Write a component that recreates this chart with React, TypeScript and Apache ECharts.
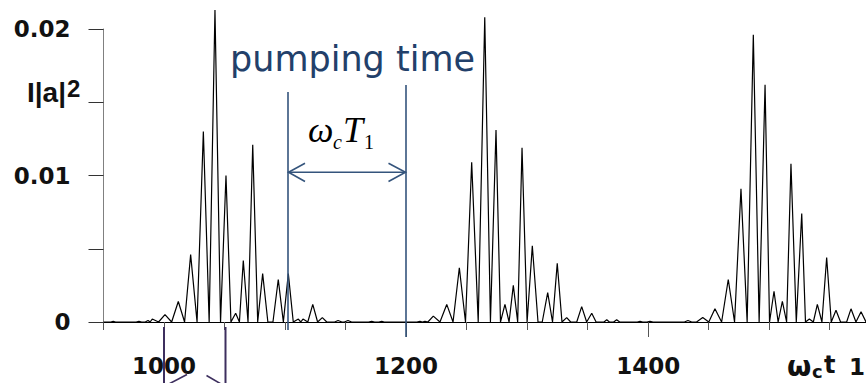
import React, { useEffect, useRef } from "react";
import * as echarts from "echarts";

// Pulse 1 samples (ωc t, I|a|^2)
const pulse1Time = [950, 956, 958, 960, 977, 979.3, 981.5, 984.5, 986.8, 988.5, 990.3, 995.5, 1000.8, 1006.3, 1011.8, 1017, 1022, 1027.3, 1032.5, 1037.3, 1042.1, 1046.7, 1051.2, 1055.3, 1059.2, 1062.3, 1065.5, 1069.4, 1073.3, 1077.4, 1081.5, 1085.8, 1090, 1094.4, 1098.6, 1102.7, 1106.8, 1111, 1113, 1114.8, 1118.8, 1122.9, 1126.9, 1130.8, 1134.5, 1141, 1143.8, 1147, 1149, 1152, 1155, 1169, 1171.6, 1174, 1177.5, 1179.9, 1182];
const pulse1Intensity = [0, 0, 0.00005, 0, 0, 0.00005, 0, 0, 0.0001, 0, 0.0002, 0, 0.0005, 0, 0.0014, 0, 0.0046, 0, 0.013, 0, 0.0213, 0, 0.01, 0, 0.0006, 0, 0.0042, 0, 0.0121, 0, 0.0033, 0, 0, 0.0029, 0, 0.0033, 0, 0.0002, 0, 0.0002, 0, 0.0012, 0, 0.0003, 0, 0, 0.0001, 0, 0, 0.0001, 0, 0, 0.00005, 0, 0, 0.00005, 0];

// Pulse 2 samples
const pulse2Time = [1209, 1211.5, 1213.5, 1215.6, 1218, 1222.5, 1228, 1233.6, 1238.8, 1244, 1249.1, 1254.2, 1259.6, 1265, 1269.7, 1274.3, 1278, 1281.7, 1285.1, 1288.6, 1292.2, 1295.8, 1300, 1304.3, 1309, 1312.5, 1317, 1321, 1324.9, 1328.8, 1332.7, 1336, 1341, 1345.1, 1349.2, 1353.4, 1357, 1363.5, 1365.8, 1368, 1371.5, 1374, 1376.5, 1391, 1393.3, 1395.5, 1399, 1401.5, 1404, 1430, 1432.9, 1436];
const pulse2Intensity = [0, 0.00005, 0, 0.00005, 0, 0.0004, 0, 0.0012, 0, 0.0037, 0, 0.0109, 0, 0.0208, 0, 0.0131, 0, 0.0012, 0, 0.0025, 0, 0.0119, 0, 0.0052, 0, 0, 0.002, 0, 0.004, 0, 0.0003, 0, 0, 0.00105, 0, 0.0006, 0, 0, 0.00015, 0, 0, 0.00015, 0, 0, 0.00005, 0, 0, 0.00005, 0, 0, 0.0001, 0];

// Pulse 3 samples
const pulse3Time = [1440, 1445.1, 1450.1, 1455.2, 1460.7, 1466.2, 1471.4, 1476.7, 1481.8, 1486.9, 1491.7, 1496.6, 1500.3, 1504, 1507.4, 1510.9, 1514.4, 1518, 1522.4, 1526.9, 1530, 1533.2, 1536.5, 1539.8, 1543.6, 1547.5, 1551.3, 1555.2, 1559, 1564, 1567.6, 1571.7, 1575.9, 1580];
const pulse3Intensity = [0, 0.0003, 0, 0.0009, 0, 0.0029, 0, 0.0091, 0, 0.0196, 0, 0.0162, 0, 0.0021, 0, 0.0014, 0, 0.0108, 0, 0.0074, 0, 0.0002, 0, 0.0012, 0, 0.0044, 0, 0.0008, 0, 0, 0.0009, 0, 0.0007, 0];

const xLabelValues = [1000, 1200, 1400];
const xMajorTickValues = [1000, 1200, 1400];
const yLabelValues = [0, 0.01, 0.02];

const SANS = "'DejaVu Sans', Verdana, sans-serif";
const ARIAL = "'Liberation Sans', Arial, sans-serif";
const SERIF = "'Liberation Serif', 'Times New Roman', serif";
const BLUE = "#34547c";
const PURPLE = "#3d2f5e";

export default function App() {
  const ref = useRef<HTMLDivElement>(null);

  useEffect(() => {
    const chart = echarts.init(ref.current!, null, { renderer: "svg", width: 866, height: 383 });
    const times = [...pulse1Time, ...pulse2Time, ...pulse3Time];
    const vals = [...pulse1Intensity, ...pulse2Intensity, ...pulse3Intensity];
    const data = times.map((t, i) => [t, vals[i]]);

    const labelFont = { fontFamily: SANS, fontWeight: "bold" as const, fontSize: 23, color: "#111" };

    chart.setOption({
      animation: false,
      backgroundColor: "#fff",
      grid: { left: 103.5, right: 0, top: 29, bottom: 61 },
      xAxis: [
        {
          type: "value",
          min: 950,
          max: 1580,
          interval: 50,
          axisLine: { show: true, lineStyle: { color: "#000", width: 1 } },
          axisTick: { show: true, length: 8, lineStyle: { color: "#555" } },
          axisLabel: { show: false },
          splitLine: { show: false },
        },
        {
          type: "value",
          min: 950,
          max: 1580,
          position: "bottom",
          axisLine: { show: false },
          axisTick: { show: true, customValues: xMajorTickValues, length: 15, lineStyle: { color: "#555" } },
          axisLabel: {
            show: true,
            customValues: xLabelValues,
            margin: 32,
            formatter: (v: number) => String(v),
            ...labelFont,
          },
          splitLine: { show: false },
        },
      ],
      yAxis: {
        type: "value",
        min: 0,
        max: 0.02,
        interval: 0.005,
        axisLine: { show: true, lineStyle: { color: "#808080", width: 1 } },
        axisTick: { show: true, length: 15, lineStyle: { color: "#333" } },
        axisLabel: {
          show: true,
          customValues: yLabelValues,
          margin: 33,
          formatter: (v: number) => (v === 0 ? "0" : v.toFixed(2)),
          ...labelFont,
        },
        splitLine: { show: false },
      },
      series: [
        {
          type: "line",
          xAxisIndex: 0,
          yAxisIndex: 0,
          data,
          symbol: "none",
          showSymbol: false,
          clip: false,
          lineStyle: { color: "#000", width: 1.2 },
          z: 3,
        },
      ],
      graphic: [
        { type: "line", z: 10, shape: { x1: 288, y1: 92, x2: 288, y2: 330 }, style: { stroke: BLUE, lineWidth: 1.6 } },
        { type: "line", z: 10, shape: { x1: 406, y1: 85, x2: 406, y2: 337 }, style: { stroke: BLUE, lineWidth: 1.6 } },
        { type: "line", z: 10, shape: { x1: 288, y1: 172.3, x2: 406, y2: 172.3 }, style: { stroke: BLUE, lineWidth: 1.6 } },
        { type: "polyline", z: 10, shape: { points: [[305, 163.3], [288.5, 172.3], [305, 181.5]] }, style: { stroke: BLUE, lineWidth: 1.6, fill: null } },
        { type: "polyline", z: 10, shape: { points: [[388.5, 163.3], [405.5, 172.3], [388.5, 181.5]] }, style: { stroke: BLUE, lineWidth: 1.6, fill: null } },
        { type: "line", z: 10, shape: { x1: 164, y1: 327, x2: 164, y2: 383 }, style: { stroke: PURPLE, lineWidth: 2 } },
        { type: "line", z: 10, shape: { x1: 225.5, y1: 327, x2: 225.5, y2: 383 }, style: { stroke: PURPLE, lineWidth: 2 } },
        { type: "line", z: 10, shape: { x1: 165, y1: 386, x2: 187, y2: 374.5 }, style: { stroke: PURPLE, lineWidth: 1.6 } },
        { type: "line", z: 10, shape: { x1: 224.5, y1: 386, x2: 206.5, y2: 375.5 }, style: { stroke: PURPLE, lineWidth: 1.6 } },
        { type: "text", z: 10, x: 230, y: 59, style: { text: "pumping time", font: `35px ${SANS}`, fill: "#22406a", verticalAlign: "middle", align: "left" } },
        { type: "text", z: 10, x: 308, y: 130, style: { text: "ω", font: `italic 36px ${SERIF}`, fill: "#000", verticalAlign: "middle", align: "left" } },
        { type: "text", z: 10, x: 333, y: 142, style: { text: "c", font: `italic 20px ${SERIF}`, fill: "#000", verticalAlign: "middle", align: "left" } },
        { type: "text", z: 10, x: 343, y: 130, style: { text: "T", font: `italic 36px ${SERIF}`, fill: "#000", verticalAlign: "middle", align: "left" } },
        { type: "text", z: 10, x: 364, y: 142, style: { text: "1", font: `20px ${SERIF}`, fill: "#000", verticalAlign: "middle", align: "left" } },
        { type: "text", z: 10, x: 27, y: 92, style: { text: "I|a|", font: `bold 28px ${ARIAL}`, fill: "#111", verticalAlign: "middle", align: "left" } },
        { type: "text", z: 10, x: 67, y: 88, style: { text: "2", font: `bold 24px ${ARIAL}`, fill: "#111", verticalAlign: "middle", align: "left" } },
        { type: "text", z: 10, x: 787, y: 366, style: { text: "ω", font: `bold 28px ${SANS}`, fill: "#111", verticalAlign: "middle", align: "left" } },
        { type: "text", z: 10, x: 812, y: 371, style: { text: "c", font: `bold 18px ${SANS}`, fill: "#111", verticalAlign: "middle", align: "left" } },
        { type: "text", z: 10, x: 824, y: 365, style: { text: "t", font: `bold 24px ${SANS}`, fill: "#111", verticalAlign: "middle", align: "left" } },
        { type: "text", z: 10, x: 849, y: 367, style: { text: "1", font: `bold 23px ${SANS}`, fill: "#111", verticalAlign: "middle", align: "left" } },
      ],
    });

    return () => chart.dispose();
  }, []);

  return (
    <div
      ref={ref}
      style={{ position: "absolute", left: 0, top: 0, width: 866, height: 383, background: "#fff" }}
    />
  );
}
